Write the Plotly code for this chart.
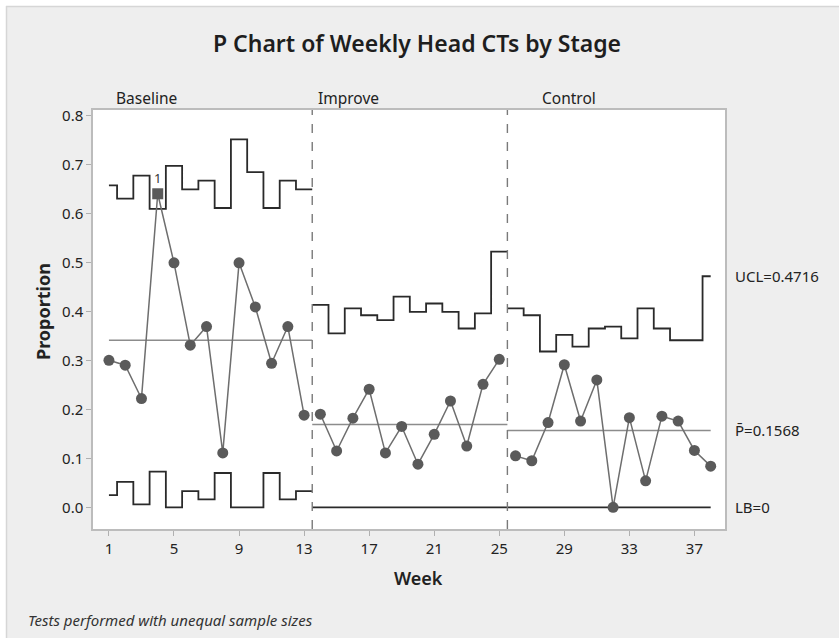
import plotly.graph_objects as go

# ---------------- data ----------------
stages = ["Baseline", "Improve", "Control"]
weeks_baseline = list(range(1, 14))
weeks_improve = list(range(14, 26))
weeks_control = list(range(26, 39))

p_baseline = [0.300, 0.290, 0.222, 0.640, 0.499, 0.331, 0.369, 0.111, 0.499, 0.409, 0.294, 0.369, 0.188]
p_improve = [0.190, 0.115, 0.182, 0.241, 0.111, 0.165, 0.088, 0.149, 0.217, 0.125, 0.251, 0.302]
p_control = [0.105, 0.095, 0.173, 0.291, 0.176, 0.260, 0.000, 0.183, 0.054, 0.186, 0.176, 0.116, 0.084]

ucl_baseline = [0.657, 0.630, 0.677, 0.609, 0.697, 0.649, 0.667, 0.611, 0.751, 0.684, 0.611, 0.667, 0.649]
lcl_baseline = [0.025, 0.052, 0.006, 0.073, 0.000, 0.033, 0.016, 0.070, 0.000, 0.000, 0.070, 0.016, 0.033]
ucl_improve = [0.413, 0.355, 0.406, 0.392, 0.382, 0.430, 0.399, 0.416, 0.399, 0.365, 0.396, 0.522]
lcl_improve = [0.0] * 12
ucl_control = [0.406, 0.392, 0.318, 0.352, 0.328, 0.365, 0.369, 0.345, 0.406, 0.365, 0.341, 0.341, 0.4716]
lcl_control = [0.0] * 13

center_values = [0.341, 0.169, 0.1568]
stage_bounds = [13.5, 25.5]
flagged_weeks = [4]

x_ticks = [1, 5, 9, 13, 17, 21, 25, 29, 33, 37]
y_ticks = [0.0, 0.1, 0.2, 0.3, 0.4, 0.5, 0.6, 0.7, 0.8]

# ---------------- geometry helpers ----------------
W, H = 839, 638
L, R, T, B = 93, 725, 110, 529
def px(x):
    return (x - L) / (R - L)
def py(y):
    return (B - y) / (B - T)

FONT = "Noto Sans"
LIMIT_COLOR = "#2a2a2a"
DATA_LINE = "#6e6e6e"
MARK = "#5a5a5a"
CENTER = "#8c8c8c"
TXT = "#222222"

fig = go.Figure()

stage_data = [
    (weeks_baseline, p_baseline, ucl_baseline, lcl_baseline, 1, stage_bounds[0]),
    (weeks_improve, p_improve, ucl_improve, lcl_improve, stage_bounds[0], stage_bounds[1]),
    (weeks_control, p_control, ucl_control, lcl_control, stage_bounds[1], weeks_control[-1]),
]

for i, (wk, p, ucl, lcl, x0, x1) in enumerate(stage_data):
    xs = list(wk)
    u = list(ucl)
    l = list(lcl)
    if x0 < wk[0]:
        xs = [x0] + xs
        u = [ucl[0]] + u
        l = [lcl[0]] + l
    if x1 > wk[-1]:
        xs = xs + [x1]
        u = u + [ucl[-1]]
        l = l + [lcl[-1]]
    fig.add_trace(go.Scatter(x=xs, y=u, mode="lines", line=dict(color=LIMIT_COLOR, width=1.8, shape="hvh"),
                             hoverinfo="skip", showlegend=False))
    fig.add_trace(go.Scatter(x=xs, y=l, mode="lines", line=dict(color=LIMIT_COLOR, width=1.8, shape="hvh"),
                             hoverinfo="skip", showlegend=False))
    fig.add_trace(go.Scatter(x=[x0, x1], y=[center_values[i]] * 2, mode="lines",
                             line=dict(color=CENTER, width=1.5), hoverinfo="skip", showlegend=False))
    symbols = ["square" if w in flagged_weeks else "circle" for w in wk]
    fig.add_trace(go.Scatter(x=wk, y=p, mode="lines+markers",
                             line=dict(color=DATA_LINE, width=1.5),
                             marker=dict(color=MARK, size=11, symbol=symbols),
                             showlegend=False))

# stage dividers
for b in stage_bounds:
    fig.add_shape(type="line", x0=b, x1=b, y0=0, y1=1, xref="x", yref="paper",
                  line=dict(color="#7a7a7a", width=1.4, dash="dash"))

# white outer strips (top / left)
fig.add_shape(type="rect", xref="paper", yref="paper", x0=px(-20), x1=px(860), y0=py(6), y1=py(-20),
              fillcolor="white", line=dict(width=0), layer="below")
fig.add_shape(type="rect", xref="paper", yref="paper", x0=px(-20), x1=px(6), y0=py(660), y1=py(-20),
              fillcolor="white", line=dict(width=0), layer="below")
fig.add_shape(type="line", xref="paper", yref="paper", x0=px(6), x1=px(860), y0=py(6.5), y1=py(6.5),
              line=dict(color="#d6d6d6", width=1.5), layer="below")
fig.add_shape(type="line", xref="paper", yref="paper", x0=px(6.5), x1=px(6.5), y0=py(6), y1=py(660),
              line=dict(color="#d6d6d6", width=1.5), layer="below")

ann = []
for w in flagged_weeks:
    ann.append(dict(x=w, y=p_baseline[weeks_baseline.index(w)], xref="x", yref="y", text="1",
                    showarrow=False, yshift=16, font=dict(family=FONT, size=13, color="#333333")))
for name, xpix in zip(stages, [114, 316, 540]):
    ann.append(dict(x=px(xpix), y=py(98), xref="paper", yref="paper", text=name, xanchor="left",
                    yanchor="middle", showarrow=False, font=dict(family=FONT, size=15.5, color=TXT)))
ann.append(dict(x=px(733), y=ucl_control[-1], xref="paper", yref="y", text="UCL=0.4716", xanchor="left",
                yanchor="middle", showarrow=False, font=dict(family=FONT, size=15, color=TXT)))
ann.append(dict(x=px(733), y=center_values[-1], xref="paper", yref="y", text="P\u0304=0.1568", xanchor="left",
                yanchor="middle", showarrow=False, font=dict(family=FONT, size=15, color=TXT)))
ann.append(dict(x=px(733), y=0, xref="paper", yref="y", text="LB=0", xanchor="left",
                yanchor="middle", showarrow=False, font=dict(family=FONT, size=15, color=TXT)))
ann.append(dict(x=px(43), y=py(312), xref="paper", yref="paper", text="Proportion", textangle=-90,
                xanchor="center", yanchor="middle",
                showarrow=False, font=dict(family=FONT, size=18, color=TXT, weight="bold")))
ann.append(dict(x=px(418), y=py(578), xref="paper", yref="paper", text="Week",
                xanchor="center", yanchor="middle",
                showarrow=False, font=dict(family=FONT, size=18, color=TXT, weight=600)))
ann.append(dict(x=px(26), y=py(620), xref="paper", yref="paper", text="Tests performed with unequal sample sizes",
                xanchor="left", yanchor="middle", showarrow=False,
                font=dict(family=FONT, size=15, color="#333333", style="italic")))

fig.update_layout(
    width=W, height=H,
    margin=dict(l=L, r=W - R, t=T, b=H - B),
    paper_bgcolor="#eeeeee",
    plot_bgcolor="white",
    title=dict(text="P Chart of Weekly Head CTs by Stage", x=417 / W, xanchor="center",
               y=1 - 44 / H, yanchor="middle", xref="container", yref="container",
               font=dict(family=FONT, size=23, color="#1e1e1e", weight=600)),
    annotations=ann,
    xaxis=dict(range=[0.02, 38.88], tickvals=x_ticks, ticks="outside", ticklen=5, tickcolor="#b0b0b0",
               showgrid=False, zeroline=False, showline=True, mirror=True, linecolor="#bcbcbc", linewidth=1.5,
               tickfont=dict(family=FONT, size=15, color=TXT)),
    yaxis=dict(range=[-0.0443, 0.811], tickvals=y_ticks, tickformat=".1f", ticks="outside", ticklen=5,
               tickcolor="#b0b0b0", showgrid=False, zeroline=False, showline=True, mirror=True,
               linecolor="#bcbcbc", linewidth=1.5, tickfont=dict(family=FONT, size=15, color=TXT)),
)

fig.write_html("out.html", config={"displayModeBar": False},
               post_script="document.body.style.margin='0px';document.body.style.overflow='hidden';")
